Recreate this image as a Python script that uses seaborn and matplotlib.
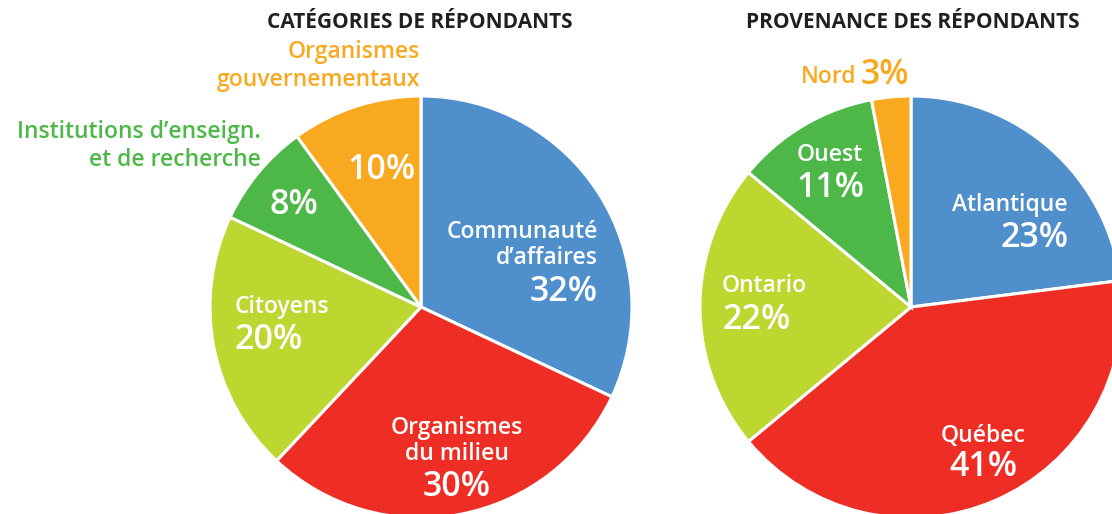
import matplotlib
matplotlib.use("Agg")
import matplotlib.pyplot as plt
import seaborn as sns

# --- data ---
cat_labels = ["Communauté\nd’affaires", "Organismes\ndu milieu", "Citoyens",
              "Institutions d’enseign.\net de recherche", "Organismes\ngouvernementaux"]
cat_values = [32, 30, 20, 8, 10]

prov_labels = ["Atlantique", "Québec", "Ontario", "Ouest", "Nord"]
prov_values = [23, 41, 22, 11, 3]

colors = sns.color_palette(["#4f8fcc", "#ee2e24", "#bdd630", "#4db848", "#f8a91f"])

sns.set_theme(style="white")
plt.rcParams["font.family"] = ["Open Sans", "DejaVu Sans"]

W, H = 1112, 514
fig = plt.figure(figsize=(W / 100, H / 100), dpi=100)
ax = fig.add_axes([0, 0, 1, 1])

wp = dict(edgecolor="white", linewidth=2.2)
ax.pie(cat_values, colors=colors, startangle=90, counterclock=False,
       center=(421, H - 307), radius=211, wedgeprops=wp, frame=True)
ax.pie(prov_values, colors=colors, startangle=90, counterclock=False,
       center=(911, H - 307), radius=211, wedgeprops=wp, frame=True)

ax.set_xlim(0, W)
ax.set_ylim(0, H)
ax.set_aspect("equal")
ax.axis("off")

LBL = 16.5
PCT = 24.5
dark = "#231f20"


def txt(x, y, s, size, color="white", ha="center", weight="semibold", ls=1.12):
    ax.text(x, H - y, s, fontsize=size, color=color, ha=ha, va="center",
            fontweight=weight, linespacing=ls)


def pct(v):
    return f"{v}%"


# titles
txt(420, 22, "CATÉGORIES DE RÉPONDANTS", 15, color=dark, weight="bold")
txt(913, 22, "PROVENANCE DES RÉPONDANTS", 15, color=dark, weight="bold")

# left pie labels
txt(598, 245, cat_labels[0], LBL, ha="right")
txt(598, 292, pct(cat_values[0]), PCT, ha="right")
txt(457, 441, cat_labels[1], LBL)
txt(457, 487, pct(cat_values[1]), PCT)
txt(235, 307, cat_labels[2], LBL, ha="left")
txt(235, 340, pct(cat_values[2]), PCT, ha="left")
txt(261, 146, cat_labels[3], LBL, color=colors[3], ha="right", ls=1.2)
txt(294, 205, pct(cat_values[3]), PCT)
txt(420, 66, cat_labels[4], LBL, color=colors[4], ha="right", ls=1.2)
txt(382, 170, pct(cat_values[4]), PCT)

# right pie labels
txt(1068, 205, prov_labels[0], LBL, ha="right")
txt(1068, 238, pct(prov_values[0]), PCT, ha="right")
txt(983, 436, prov_labels[1], LBL)
txt(983, 467, pct(prov_values[1]), PCT)
txt(722, 286, prov_labels[2], LBL, ha="left")
txt(722, 320, pct(prov_values[2]), PCT, ha="left")
txt(830, 155, prov_labels[3], LBL)
txt(830, 188, pct(prov_values[3]), PCT)
txt(856, 77, prov_labels[4], LBL, color=colors[4], ha="right")
txt(861, 75, pct(prov_values[4]), PCT, color=colors[4], ha="left")

fig.savefig("out.png", dpi=100)
